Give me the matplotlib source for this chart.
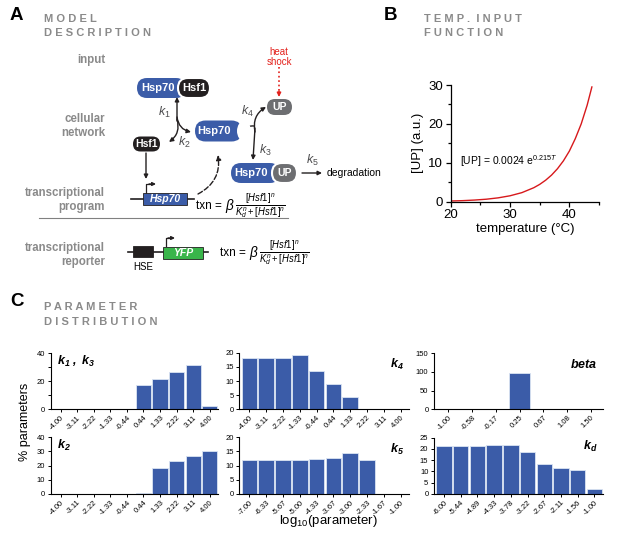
import numpy as np
import matplotlib
matplotlib.use('Agg')
import matplotlib.pyplot as plt
from matplotlib.patches import FancyBboxPatch, Rectangle, Ellipse
from matplotlib.ticker import MultipleLocator

plt.rcParams['font.family'] = ['Liberation Sans', 'DejaVu Sans']
plt.rcParams['mathtext.fontset'] = 'custom'
plt.rcParams['mathtext.rm'] = 'Liberation Sans'
plt.rcParams['mathtext.it'] = 'Liberation Sans:italic'
plt.rcParams['mathtext.bf'] = 'Liberation Sans:italic:bold'

# ---- data ------------------------------------------------------------------
# panel B, [UP]
temp = [20, 22, 24, 26, 28, 30, 32, 34, 35, 36, 37, 38, 39, 40, 41, 42, 43, 43.8]
up = [0.18, 0.27, 0.42, 0.64, 0.99, 1.52, 2.33, 3.59, 4.45, 5.52, 6.84, 8.48,
      10.5, 13.0, 16.2, 20.0, 24.8, 29.5]

# panel C histograms (% parameters)
cats_k = ['-4.00', '-3.11', '-2.22', '-1.33', '-0.44', '0.44', '1.33', '2.22', '3.11', '4.00']
k13 = [0, 0, 0, 0, 0, 17.1, 21.9, 26.9, 31.4, 2.1]
k2 = [0, 0, 0, 0, 0, 0.5, 18.6, 23.3, 26.6, 30.4]
k4 = [18.1, 18.1, 18.1, 19.1, 13.4, 8.9, 4.5, 0, 0, 0]
cats_k5 = ['-7.00', '-6.33', '-5.67', '-5.00', '-4.33', '-3.67', '-3.00', '-2.33', '-1.67', '-1.00']
k5 = [12.1, 12.1, 12.1, 12.1, 12.4, 12.8, 14.3, 11.9, 0, 0]
cats_beta = ['-1.00', '-0.58', '-0.17', '0.25', '0.67', '1.08', '1.50']
beta = [0, 0, 0, 97, 0, 0, 0]
cats_kd = ['-6.00', '-5.44', '-4.89', '-4.33', '-3.78', '-3.22', '-2.67', '-2.11', '-1.56', '-1.00']
kd = [21.5, 21.5, 21.5, 21.6, 21.6, 18.8, 13.2, 11.7, 10.8, 2.1]

W, H = 617., 544.
BLUE = '#3b5ca8'
GREY = '#8a8a8a'
UPGREY = '#6d6e71'
RED = '#e3211c'
DARK = '#231f20'

fig = plt.figure(figsize=(6.17, 5.44), dpi=100)


def rect(l, t, r, b):
    return [l / W, 1 - b / H, (r - l) / W, (b - t) / H]


# full-figure canvas for the schematic, in pixel units
ax0 = fig.add_axes([0, 0, 1, 1])
ax0.set_xlim(0, W)
ax0.set_ylim(H, 0)
ax0.axis('off')


def pill(x0, x1, yc, h, fc, ec='none', lw=0, z=3):
    ax0.add_patch(FancyBboxPatch((x0, yc - h / 2), x1 - x0, h,
                                 boxstyle='round,pad=0,rounding_size=%g' % (h / 2.),
                                 fc=fc, ec=ec, lw=lw, zorder=z))


def arrow(xy, xyt, rad=0., ls='-', color=DARK, lw=1.0, ms=7):
    ax0.annotate('', xy=xy, xytext=xyt,
                 arrowprops=dict(arrowstyle='-|>', color=color, lw=lw, ls=ls,
                                 mutation_scale=ms, shrinkA=0, shrinkB=0,
                                 connectionstyle='arc3,rad=%g' % rad))


def txn(x, y):
    ax0.text(x, y, 'txn =', fontsize=8.5, ha='left', va='center')
    ax0.text(x + 29, y, r'$\beta\,\frac{[Hsf1]^n}{K_d^n+[Hsf1]^n}$', fontsize=9.8,
             ha='left', va='center')


# headers
for x, y, s in [(10, 16, 'A'), (384, 16, 'B'), (10, 302, 'C')]:
    ax0.text(x, y, s, fontsize=13.5, weight='bold', va='center', ha='left')
hdr = dict(fontsize=8, weight='bold', color=GREY, va='center', ha='left')
ax0.text(44, 19, 'M O D E L', **hdr)
ax0.text(44, 33, 'D E S C R I P T I O N', **hdr)
ax0.text(424, 19, 'T E M P .  I N P U T', **hdr)
ax0.text(424, 33, 'F U N C T I O N', **hdr)
ax0.text(44, 307, 'P A R A M E T E R', **hdr)
ax0.text(44, 322, 'D I S T R I B U T I O N', **hdr)

# row labels
lab = dict(fontsize=8.3, weight='bold', color=GREY, ha='right', va='center', linespacing=1.25)
ax0.text(105, 60, 'input', **lab)
ax0.text(105, 126, 'cellular\nnetwork', **lab)
ax0.text(105, 200, 'transcriptional\nprogram', **lab)
ax0.text(105, 255, 'transcriptional\nreporter', **lab)
ax0.plot([39, 288], [218, 218], color='#808080', lw=0.8)

wtxt = dict(color='white', weight='bold', ha='center', va='center', zorder=5)

# Hsp70-Hsf1 complex
pill(137, 186, 88, 20, BLUE)
pill(178, 210, 88, 20, DARK, ec='white', lw=1.5, z=4)
ax0.text(158, 88, 'Hsp70', fontsize=8, **wtxt)
ax0.text(194, 88, 'Hsf1', fontsize=8, **wtxt)

# free Hsf1
pill(133, 160, 144, 15, DARK)
ax0.text(146.5, 144, 'Hsf1', fontsize=7.5, **wtxt)

# free Hsp70 with notch
pill(195, 242, 131, 21, BLUE)
ax0.add_patch(Ellipse((244, 131), 14, 20, fc='white', ec='none', zorder=4))
ax0.text(214, 131, 'Hsp70', fontsize=8, **wtxt)

# UP
pill(267, 292, 107, 16, UPGREY)
ax0.text(279.5, 107, 'UP', fontsize=7.5, **wtxt)

# Hsp70-UP complex
pill(231, 280, 173, 20, BLUE)
pill(272, 297, 173, 20, UPGREY, ec='white', lw=1.5, z=4)
ax0.text(251, 173, 'Hsp70', fontsize=8, **wtxt)
ax0.text(285, 173, 'UP', fontsize=7.5, **wtxt)

# heat shock
ax0.text(279, 52, 'heat', color=RED, fontsize=7, ha='center', va='center')
ax0.text(279, 62, 'shock', color=RED, fontsize=7, ha='center', va='center')
ax0.plot([279, 279], [67, 90], ':', color=RED, lw=1.2)
arrow((279, 97), (279, 90), color=RED, ms=6)

# k1 / k2 reactions
arrow((177, 97), (177, 121), ms=6)
arrow((169, 142), (177, 119), rad=-0.35, ms=6)
arrow((191, 132), (177, 117), rad=0.35, ms=6)
kt = dict(fontsize=9, color='#4d4d4f', ha='center', va='center')
ax0.text(164, 112, r'$k_1$', **kt)
ax0.text(184, 142, r'$k_2$', **kt)

# k3 / k4 reactions
arrow((253, 160), (255, 128), ms=6)
arrow((266, 107), (255, 132), rad=-0.35, ms=6)
arrow((242, 132), (254, 126), rad=0.3, ms=6)
ax0.text(247, 111, r'$k_4$', **kt)
ax0.text(265, 150, r'$k_3$', **kt)

# degradation
arrow((322, 173), (302, 173), ms=6)
ax0.text(312, 160, r'$k_5$', **kt)
ax0.text(327, 173, 'degradation', fontsize=7.5, ha='left', va='center')

# Hsf1 -> gene
arrow((146, 179), (146, 153), ms=6)

# Hsp70 gene
ax0.plot([131, 194], [199, 199], color=DARK, lw=1.2, zorder=2)
ax0.add_patch(Rectangle((143, 193), 44, 11.5, fc=BLUE, ec=DARK, lw=0.6, zorder=3))
ax0.text(165, 199, 'Hsp70', fontsize=7.5, style='italic', **wtxt)
ax0.plot([146, 146, 150], [193, 184, 184], color=DARK, lw=0.9)
arrow((156, 184), (149, 184), ms=5)
arrow((218, 155), (198, 194), rad=0.35, ls='--', ms=7)
txn(196, 206)

# reporter
ax0.plot([128, 208], [252, 252], color=DARK, lw=1.2, zorder=2)
ax0.add_patch(Rectangle((133, 246), 20, 11, fc=DARK, ec=DARK, lw=0.6, zorder=3))
ax0.add_patch(Rectangle((163, 246.5), 40, 12.5, fc='#39b54a', ec=DARK, lw=0.6, zorder=3))
ax0.text(183, 252.5, 'YFP', fontsize=7.5, style='italic', **wtxt)
ax0.plot([166, 166, 169], [246, 238, 238], color=DARK, lw=0.9)
arrow((175, 238), (168, 238), ms=5)
ax0.text(143, 267, 'HSE', fontsize=7, ha='center', va='center')
txn(220, 253)

# ---- panel B ---------------------------------------------------------------
axB = fig.add_axes(rect(450.7, 85, 599, 201.7))
axB.plot(temp, up, color='#d7191c', lw=1.0)
axB.set_xlim(20, 45)
axB.set_ylim(0, 30)
axB.set_xticks([20, 30, 40])
axB.xaxis.set_minor_locator(MultipleLocator(5))
axB.set_yticks([0, 10, 20, 30])
axB.yaxis.set_minor_locator(MultipleLocator(5))
for s in ['top', 'right']:
    axB.spines[s].set_visible(False)
for s in ['left', 'bottom']:
    axB.spines[s].set_linewidth(0.9)
axB.tick_params(which='both', labelsize=9.5, width=0.9, length=3.5, pad=2)
axB.tick_params(which='minor', length=2.5)
axB.set_xlabel('temperature (°C)', fontsize=9.5, labelpad=1)
axB.set_ylabel('[UP] (a.u.)', fontsize=9.5, labelpad=3)
axB.text(21.5, 10.5, r'[UP] = 0.0024 e$^{0.215T}$', fontsize=7.5, ha='left', va='center')

# ---- panel C ---------------------------------------------------------------
panels = [
    (rect(50.7, 353.3, 218, 409.3), cats_k, k13, 40, 20, 10, r'$\mathbf{k_1\ ,\ k_3}$', 'left', 0.85),
    (rect(50.7, 437.3, 218, 494), cats_k, k2, 40, 10, None, r'$\mathbf{k_2}$', 'left', 0.85),
    (rect(239.3, 352.7, 409, 409.3), cats_k, k4, 20, 5, None, r'$\mathbf{k_4}$', 'right', 0.8),
    (rect(239.3, 437.3, 409, 494), cats_k5, k5, 20, 5, None, r'$\mathbf{k_5}$', 'right', 0.78),
    (rect(434, 353.3, 602.7, 409.3), cats_beta, beta, 150, 50, None, r'$\mathbf{beta}$', 'right', 0.8),
    (rect(434, 437.7, 602.7, 494), cats_kd, kd, 25, 5, None, r'$\mathbf{k_d}$', 'right', 0.85),
]

for pos, cats, vals, ymax, ystep, yminor, title, side, ty in panels:
    ax = fig.add_axes(pos)
    x = np.arange(len(cats))
    ax.bar(x, vals, width=0.92, color=BLUE, edgecolor='#dbe4f3', linewidth=0.6)
    ax.set_xlim(-0.6, len(cats) - 0.5)
    ax.set_ylim(0, ymax)
    ax.set_xticks(x)
    ax.set_xticklabels(cats, rotation=45, ha='right', rotation_mode='anchor', fontsize=3.6)
    ax.yaxis.set_major_locator(MultipleLocator(ystep))
    if yminor:
        ax.yaxis.set_minor_locator(MultipleLocator(yminor))
    for s in ['top', 'right']:
        ax.spines[s].set_visible(False)
    for s in ['left', 'bottom']:
        ax.spines[s].set_linewidth(0.8)
    ax.tick_params(which='both', labelsize=5.5, width=0.7, length=2.5, pad=1.5)
    ax.tick_params(axis='x', pad=1)
    ax.tick_params(which='minor', length=2)
    if side == 'left':
        ax.text(0.04, ty, title, transform=ax.transAxes, fontsize=9, ha='left', va='center')
    else:
        ax.text(0.97, ty, title, transform=ax.transAxes, fontsize=9, ha='right', va='center')

ax0.text(25, 422, '% parameters', fontsize=9, rotation=90, ha='center', va='center')
ax0.text(328, 521, r'log$_{10}$(parameter)', fontsize=9.5, ha='center', va='center')

plt.savefig('out.png', dpi=100)
